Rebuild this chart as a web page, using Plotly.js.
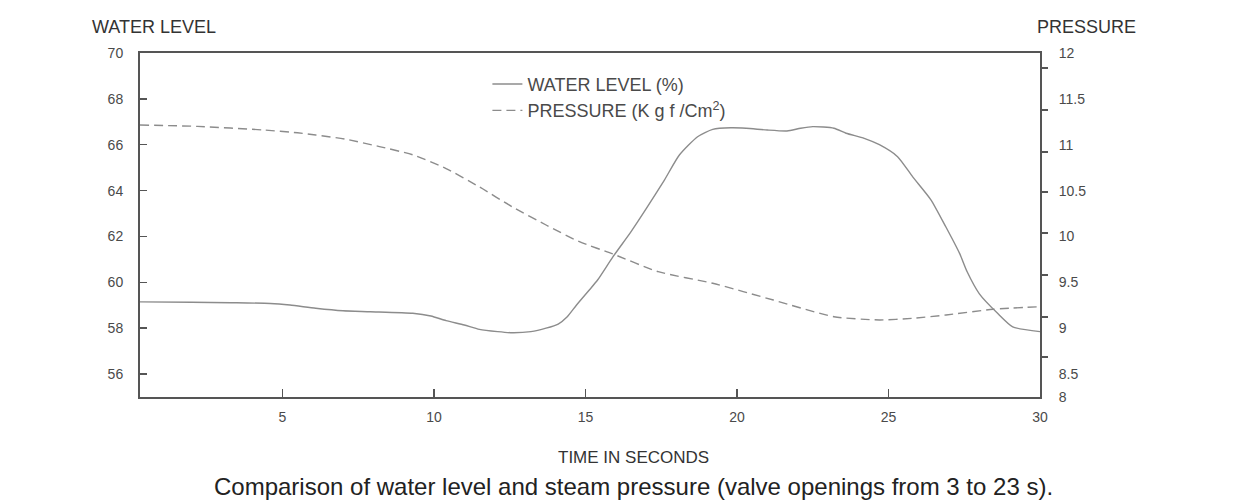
<!DOCTYPE html>
<html>
<head>
<meta charset="utf-8">
<script src="https://cdn.plot.ly/plotly-3.0.1.min.js"></script>
<style>html,body{margin:0;padding:0;background:#fff;}#chart{width:1234px;height:502px;}</style>
</head>
<body>
<div id="chart"></div>
<script>
// Water level (%) vs time (s)
const waterTime = [0.3, 2.0, 3.3, 4.6, 5.25, 6.1, 7.0, 7.9, 9.3, 9.9, 10.4, 11.0, 11.5, 12.1, 12.6, 13.2, 13.7, 14.1, 14.4, 14.7, 15.15, 15.4, 15.9, 16.5, 17.0, 17.6, 18.1, 18.7, 19.2, 19.8, 20.3, 21.0, 21.65, 22.1, 22.5, 23.2, 23.6, 24.2, 24.7, 25.3, 25.8, 26.4, 26.9, 27.35, 27.6, 28.0, 28.6, 29.1, 30];
const waterLevel = [59.15, 59.13, 59.11, 59.08, 59.01, 58.87, 58.76, 58.72, 58.65, 58.53, 58.33, 58.14, 57.95, 57.85, 57.80, 57.85, 58.0, 58.18, 58.5, 59.0, 59.7, 60.1, 61.1, 62.2, 63.2, 64.45, 65.55, 66.35, 66.67, 66.74, 66.72, 66.64, 66.6, 66.72, 66.79, 66.72, 66.5, 66.28, 66.0, 65.48, 64.6, 63.6, 62.4, 61.25, 60.45, 59.5, 58.65, 58.06, 57.85];

// Steam pressure (Kgf/cm2) vs time (s)
const pressureTime = [0.3, 2.2, 4.4, 5.5, 6.1, 7.1, 8.2, 9.3, 10.4, 11.5, 12.6, 13.7, 14.8, 15.9, 17.4, 19.2, 21.2, 23.2, 24.7, 25.8, 26.9, 28.45, 30];
const pressure = [11.215, 11.20, 11.16, 11.13, 11.106, 11.06, 10.98, 10.89, 10.74, 10.54, 10.32, 10.125, 9.943, 9.81, 9.616, 9.49, 9.307, 9.125, 9.09, 9.108, 9.144, 9.206, 9.234];

// Tick labels
const xTicks = [5, 10, 15, 20, 25, 30];
const waterTicks = [56, 58, 60, 62, 64, 66, 68, 70];
const pressureTickVals = [8.25, 8.5, 9, 9.5, 10, 10.5, 11, 11.5, 12];
const pressureTickText = ["8", "8.5", "9", "9.5", "10", "10.5", "11", "11.5", "12"];
const pressureTickMarks = [8.686, 9.122, 9.58, 10.038, 10.485, 10.921, 11.379, 11.836];

const lineGray = '#8c8c8c';
const axisGray = '#555555';
const textGray = '#4a4a4a';
const fontFam = 'Liberation Sans, Arial, sans-serif';

const traces = [
  {
    x: waterTime, y: waterLevel, type: 'scatter', mode: 'lines',
    name: 'WATER LEVEL (%)',
    line: {color: lineGray, width: 1.4, shape: 'spline', smoothing: 0.6},
    yaxis: 'y'
  },
  {
    x: pressureTime, y: pressure, type: 'scatter', mode: 'lines',
    name: 'PRESSURE (K g f /Cm<sup>2</sup>)',
    line: {color: lineGray, width: 1.4, dash: '9px,5px', shape: 'spline', smoothing: 0.6},
    yaxis: 'y2'
  }
];

const layout = {
  width: 1234, height: 502,
  margin: {l: 140, r: 194, t: 53, b: 105},
  paper_bgcolor: '#ffffff', plot_bgcolor: '#ffffff',
  font: {family: fontFam, color: textGray, size: 14},
  showlegend: true,
  legend: {
    x: 0.386, y: 0.963, xanchor: 'left', yanchor: 'top',
    bgcolor: 'rgba(0,0,0,0)', borderwidth: 0,
    font: {family: fontFam, size: 18, color: textGray},
    tracegroupgap: 0, itemwidth: 30
  },
  xaxis: {
    range: [0.3, 30],
    tickmode: 'array', tickvals: xTicks, ticktext: xTicks.map(String),
    ticks: 'inside', ticklen: 8, tickwidth: 1.5, tickcolor: axisGray,
    showline: true, linecolor: axisGray, linewidth: 2, mirror: true,
    showgrid: false, zeroline: false,
    ticklabelstandoff: 6,
    tickfont: {size: 14, color: textGray}
  },
  yaxis: {
    range: [55, 70],
    tickmode: 'array', tickvals: waterTicks, ticktext: waterTicks.map(String),
    ticks: 'inside', ticklen: 7, tickwidth: 1.5, tickcolor: axisGray,
    showline: true, linecolor: axisGray, linewidth: 2, mirror: true,
    showgrid: false, zeroline: false,
    ticklabelstandoff: 12,
    tickfont: {size: 14, color: textGray}
  },
  yaxis2: {
    range: [8.25, 12], overlaying: 'y', side: 'right',
    tickmode: 'array', tickvals: pressureTickVals, ticktext: pressureTickText,
    ticks: '', showline: true, linecolor: axisGray, linewidth: 2,
    showgrid: false, zeroline: false,
    ticklabelstandoff: 14,
    tickfont: {size: 14, color: textGray},
    minor: {tickmode: 'array', tickvals: pressureTickMarks, ticks: 'outside', ticklen: 6, tickwidth: 1.5, tickcolor: axisGray, showgrid: false}
  },
  annotations: [
    {text: 'WATER LEVEL', xref: 'paper', yref: 'paper', x: -0.0556, y: 1.0756, xanchor: 'left', yanchor: 'middle', showarrow: false, font: {size: 18, color: '#333'}},
    {text: 'PRESSURE', xref: 'paper', yref: 'paper', x: 0.9944, y: 1.0756, xanchor: 'left', yanchor: 'middle', showarrow: false, font: {size: 18, color: '#333'}},
    {text: 'TIME IN SECONDS', xref: 'paper', yref: 'paper', x: 0.548, y: -0.177, xanchor: 'center', yanchor: 'middle', showarrow: false, font: {size: 17, color: '#333'}},
    {text: 'Comparison of water level and steam pressure (valve openings from 3 to 23 s).', xref: 'paper', yref: 'paper', x: 0.548, y: -0.2616, xanchor: 'center', yanchor: 'middle', showarrow: false, font: {size: 24, color: '#222'}}
  ]
};

Plotly.newPlot('chart', traces, layout, {displayModeBar: false, staticPlot: true});
</script>
</body>
</html>
